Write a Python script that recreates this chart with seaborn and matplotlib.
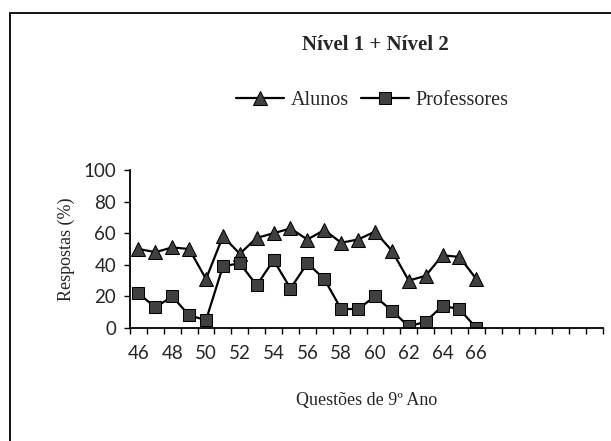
import pandas as pd
import seaborn as sns
import matplotlib.pyplot as plt
from matplotlib.patches import Rectangle

questoes = list(range(46, 67))
alunos = [50, 48, 51, 50, 31, 58, 47, 57, 60, 63, 56, 62, 54, 56, 61, 49, 30, 33, 46, 45, 31]
professores = [22, 13, 20, 8, 5, 39, 41, 27, 43, 25, 41, 31, 12, 12, 20, 11, 1, 4, 14, 12, 0]
rotulos = [str(q) for q in range(46, 67, 2)]

df = pd.DataFrame({"Questão": questoes, "Alunos": alunos, "Professores": professores})

sns.set_style("white")
serif = ["Liberation Serif", "DejaVu Serif"]

fig = plt.figure(figsize=(6.11, 4.41), dpi=100)
ax = fig.add_axes([130 / 611, 1 - 328 / 441, (603 - 130) / 611, (328 - 170) / 441])

sns.lineplot(data=df, x="Questão", y="Alunos", ax=ax, color="black", lw=1.6,
             marker="^", markersize=10, markerfacecolor="#404040",
             markeredgecolor="black", label="Alunos")
sns.lineplot(data=df, x="Questão", y="Professores", ax=ax, color="black", lw=1.6,
             marker="s", markersize=8, markerfacecolor="#404040",
             markeredgecolor="black", label="Professores")

ax.set_xlim(45.5, 73.5)
ax.set_ylim(0, 100)
ax.set_yticks(range(0, 101, 20))
ax.set_xticks(range(46, 67, 2))
ax.set_xticklabels(rotulos)
ax.set_xticks([x + 0.5 for x in range(45, 74)], minor=True)
ax.tick_params(axis="x", which="major", bottom=True, length=0, pad=12, labelsize=13.5)
ax.tick_params(axis="x", which="minor", bottom=True, length=4, width=1, color="black", direction="out")
ax.tick_params(axis="y", left=True, length=4, width=1, color="black", direction="out", labelsize=13.5, pad=6)
for lab in ax.get_xticklabels() + ax.get_yticklabels():
    lab.set_family("Lato")

for s in ["top", "right"]:
    ax.spines[s].set_visible(False)
for s in ["left", "bottom"]:
    ax.spines[s].set_color("black")
    ax.spines[s].set_linewidth(1.3)

ax.set_xlabel("Questões de 9º Ano", family=serif, fontsize=13, labelpad=22)
ax.set_ylabel("Respostas (%)", family=serif, fontsize=13, labelpad=6)

ax.legend(loc="center", bbox_to_anchor=(372 / 611, 1 - 100 / 441), bbox_transform=fig.transFigure,
          ncol=2, frameon=False, prop={"family": serif, "size": 14.5},
          handlelength=2.4, handletextpad=0.3, columnspacing=0.6)

fig.text(375 / 611, 1 - 45 / 441, "Nível 1 + Nível 2", ha="center", va="center",
         family=serif, fontsize=15, fontweight="bold")

fig.add_artist(Rectangle((10 / 611, -0.05), 1.1, 1 - 13 / 441 + 0.05, transform=fig.transFigure,
                         fill=False, edgecolor="black", lw=1.3))

fig.savefig("out.png", dpi=100)
